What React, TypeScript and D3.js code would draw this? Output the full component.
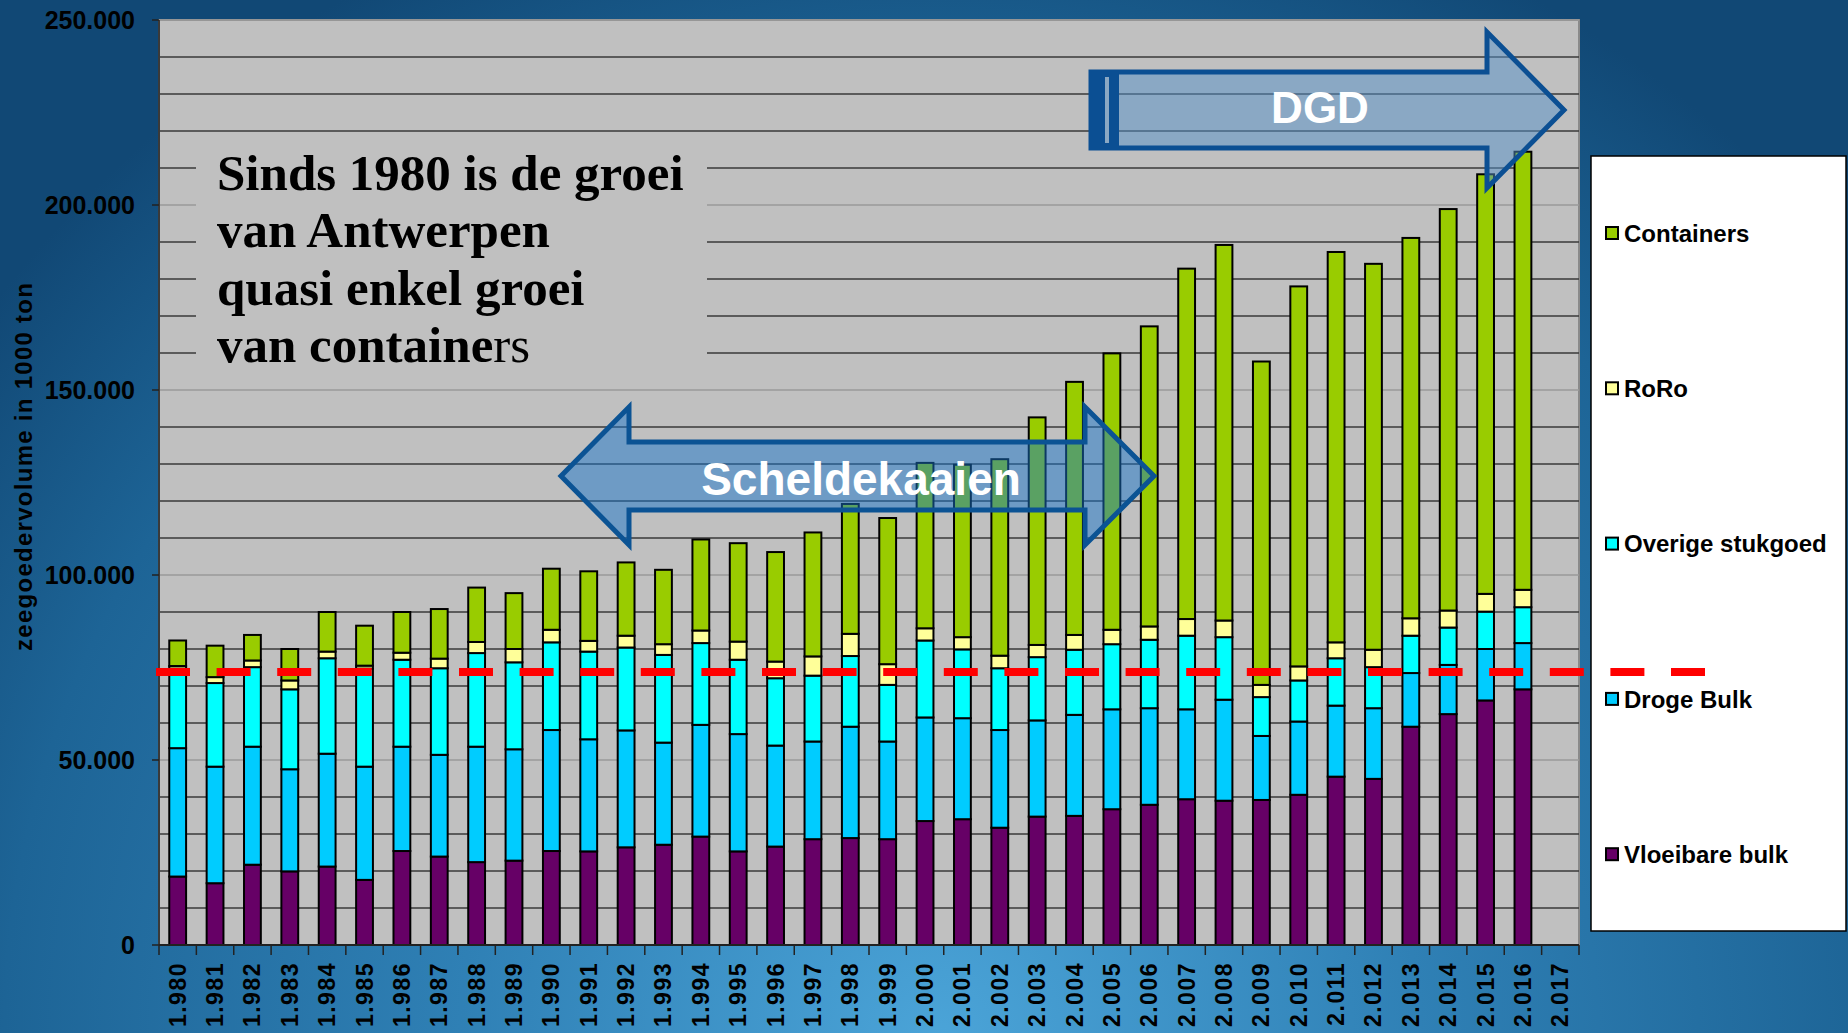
import React from 'react';
import * as d3 from 'd3';

// seaborne cargo volume, in 1000 ton (values read in thousands)
const years = [
  1980, 1981, 1982, 1983, 1984, 1985, 1986, 1987, 1988, 1989,
  1990, 1991, 1992, 1993, 1994, 1995, 1996, 1997, 1998, 1999,
  2000, 2001, 2002, 2003, 2004, 2005, 2006, 2007, 2008, 2009,
  2010, 2011, 2012, 2013, 2014, 2015, 2016, 2017,
];

const vloeibareBulk = [
  18.5, 16.7, 21.7, 19.9, 21.2, 17.6, 25.4, 23.9, 22.4, 22.8,
  25.4, 25.3, 26.4, 27.1, 29.3, 25.3, 26.6, 28.6, 28.9, 28.6,
  33.5, 34.0, 31.7, 34.7, 34.9, 36.7, 37.9, 39.4, 39.0, 39.2,
  40.6, 45.5, 44.9, 59.0, 62.4, 66.1, 69.1, 0,
];
const drogeBulk = [
  34.7, 31.5, 31.9, 27.6, 30.5, 30.6, 28.2, 27.5, 31.2, 30.1,
  32.7, 30.3, 31.6, 27.6, 30.2, 31.7, 27.3, 26.4, 30.1, 26.4,
  28.0, 27.3, 26.4, 26.0, 27.3, 27.0, 26.1, 24.3, 27.3, 17.3,
  19.8, 19.2, 19.1, 14.5, 13.3, 13.9, 12.5, 0,
];
const overigeStukgoed = [
  21.5, 22.6, 21.5, 21.6, 25.8, 26.5, 23.5, 23.4, 25.3, 23.5,
  23.7, 23.7, 22.4, 23.7, 22.1, 20.1, 18.2, 17.8, 19.1, 15.3,
  20.8, 18.6, 16.7, 17.1, 17.6, 17.6, 18.5, 19.9, 16.9, 10.5,
  11.1, 12.8, 11.1, 10.1, 10.1, 10.1, 9.7, 0,
];
const roro = [
  0.7, 1.6, 1.8, 2.4, 1.8, 0.8, 1.9, 2.6, 3.0, 3.6,
  3.4, 2.9, 3.2, 2.9, 3.4, 4.9, 4.5, 5.2, 6.0, 5.6,
  3.3, 3.3, 3.4, 3.3, 4.0, 3.9, 3.6, 4.5, 4.5, 3.3,
  3.8, 4.3, 4.7, 4.7, 4.6, 4.8, 4.7, 0,
];
const containers = [
  6.9, 8.5, 6.9, 8.5, 10.7, 10.8, 11.0, 13.4, 14.7, 15.1,
  16.5, 18.8, 19.8, 20.1, 24.6, 26.6, 29.6, 33.5, 35.1, 39.5,
  44.7, 46.6, 53.1, 61.5, 68.4, 74.7, 81.1, 94.7, 101.5, 87.4,
  102.7, 105.5, 104.3, 102.8, 108.5, 113.4, 118.4, 0,
];

const seriesKeys = ['Vloeibare bulk', 'Droge Bulk', 'Overige stukgoed', 'RoRo', 'Containers'];
const seriesColors = ['#660066', '#00ccff', '#00ffff', '#ffff99', '#99cc00'];
const legendOrder = ['Containers', 'RoRo', 'Overige stukgoed', 'Droge Bulk', 'Vloeibare bulk'];

const yTicks = [0, 50000, 100000, 150000, 200000, 250000];
const gridValues = d3.range(10000, 250001, 10000);
const referenceLevel = 73800;

const noteLines = ['Sinds 1980 is de groei', 'van Antwerpen', 'quasi enkel groei'];

const W = 1848;
const H = 1033;
const plot = { left: 159, right: 1579, top: 20, bottom: 945 };

const nl = d3.formatLocale({ decimal: ',', thousands: '.', grouping: [3], currency: ['', ''] });
const fmt = nl.format(',');

const table = years.map((year, i) => ({
  year,
  'Vloeibare bulk': vloeibareBulk[i] * 1000,
  'Droge Bulk': drogeBulk[i] * 1000,
  'Overige stukgoed': overigeStukgoed[i] * 1000,
  'RoRo': roro[i] * 1000,
  'Containers': containers[i] * 1000,
}));

const App = () => {
  const x = d3.scaleBand<number>()
    .domain(years)
    .range([plot.left, plot.right])
    .paddingInner(0.55)
    .paddingOuter(0.275);
  const y = d3.scaleLinear().domain([0, 250000]).range([plot.bottom, plot.top]);
  const color = d3.scaleOrdinal<string, string>().domain(seriesKeys).range(seriesColors);

  const stacked = d3.stack<any>().keys(seriesKeys)(table);
  const step = x.step();
  const font = "'Liberation Sans', Arial, sans-serif";

  // arrows
  const sch = { l: 561, r: 1154, hl: 629, hr: 1085, mid: 476, ht: 407, hb: 545, bt: 442, bb: 510 };
  const schPts = [
    [sch.l, sch.mid], [sch.hl, sch.ht], [sch.hl, sch.bt], [sch.hr, sch.bt], [sch.hr, sch.ht],
    [sch.r, sch.mid], [sch.hr, sch.hb], [sch.hr, sch.bb], [sch.hl, sch.bb], [sch.hl, sch.hb],
  ];
  const dgd = { l: 1091, hx: 1487, tip: 1564, mid: 110, ht: 32, hb: 188, bt: 72, bb: 148 };
  const dgdPts = [
    [dgd.l, dgd.bt], [dgd.hx, dgd.bt], [dgd.hx, dgd.ht], [dgd.tip, dgd.mid],
    [dgd.hx, dgd.hb], [dgd.hx, dgd.bb], [dgd.l, dgd.bb],
  ];
  const poly = (pts: number[][]) => pts.map(p => p.join(',')).join(' ');

  return (
    <svg width={W} height={H} style={{ position: 'absolute', top: 0, left: 0, display: 'block' }}>
      <defs>
        <radialGradient id="bg" gradientUnits="userSpaceOnUse" cx={940} cy={1040} r={1200}>
          <stop offset="0" stopColor="#4ba4d8" />
          <stop offset="0.4" stopColor="#2f80b5" />
          <stop offset="0.78" stopColor="#1d6496" />
          <stop offset="1" stopColor="#114875" />
        </radialGradient>
      </defs>
      <rect x={0} y={0} width={W} height={H} fill="url(#bg)" />

      {/* plot area */}
      <rect x={plot.left} y={plot.top} width={plot.right - plot.left} height={plot.bottom - plot.top}
        fill="#c0c0c0" stroke="#8a8a8a" strokeWidth={2} />
      {gridValues.map(v => (
        <line key={v} x1={plot.left} x2={plot.right} y1={y(v)} y2={y(v)}
          stroke={v % 50000 === 0 ? '#9a9a9a' : '#3a3a3a'} strokeWidth={1.5} />
      ))}

      {/* note box hides the grid */}
      <rect x={196} y={142} width={511} height={236} fill="#c0c0c0" />

      {/* bars */}
      {stacked.map(s => (
        <g key={s.key} fill={color(s.key)} stroke="#000" strokeWidth={2}>
          {s.map((d, i) => (d[1] - d[0] > 0 ? (
            <rect key={i} x={x(years[i])} width={x.bandwidth()} y={y(d[1])} height={y(d[0]) - y(d[1])} />
          ) : null))}
        </g>
      ))}

      {/* axes */}
      <line x1={plot.left} x2={plot.left} y1={plot.top} y2={plot.bottom} stroke="#3a3a3a" strokeWidth={2} />
      <line x1={plot.left} x2={plot.right} y1={plot.bottom} y2={plot.bottom} stroke="#222" strokeWidth={2} />
      {yTicks.map(v => (
        <g key={v}>
          <line x1={plot.left - 7} x2={plot.left} y1={y(v)} y2={y(v)} stroke="#222" strokeWidth={1.5} />
          <text x={135} y={y(v)} dy="0.36em" textAnchor="end" fontFamily={font} fontWeight="bold" fontSize={25} fill="#000">
            {fmt(v)}
          </text>
        </g>
      ))}
      {years.map((yr, i) => (
        <line key={'t' + yr} x1={plot.left + i * step} x2={plot.left + i * step} y1={plot.bottom} y2={plot.bottom + 10}
          stroke="#222" strokeWidth={1.5} />
      ))}
      <line x1={plot.right} x2={plot.right} y1={plot.bottom} y2={plot.bottom + 10} stroke="#222" strokeWidth={1.5} />
      {years.map(yr => {
        const cx = (x(yr) as number) + x.bandwidth() / 2;
        return (
          <text key={'l' + yr} transform={`translate(${cx + 8},962) rotate(-90)`} textAnchor="end"
            fontFamily={font} fontWeight="bold" fontSize={23} letterSpacing={1.5} fill="#000">
            {fmt(yr)}
          </text>
        );
      })}
      <text transform="translate(32,467) rotate(-90)" textAnchor="middle" fontFamily={font} fontWeight="bold"
        fontSize={24} textLength={368} lengthAdjust="spacing" fill="#000">
        zeegoedervolume in 1000 ton
      </text>

      {/* note */}
      <g fontFamily="'Liberation Serif', 'Times New Roman', serif" fontWeight="bold" fontSize={51} fill="#000">
        {noteLines.map((t, i) => (
          <text key={t} x={217} y={190 + i * 57.3}>{t}</text>
        ))}
        <text x={217} y={190 + 3 * 57.3}>van containe<tspan fontWeight="normal">rs</tspan></text>
      </g>

      {/* Scheldekaaien arrow */}
      <polygon points={poly(schPts)} fill="rgb(25,116,202)" fillOpacity={0.49} stroke="#0b5394" strokeWidth={5}
        strokeLinejoin="miter" />
      <text x={861} y={495} textAnchor="middle" fontFamily={font} fontWeight="bold" fontSize={46} fill="#fff">
        Scheldekaaien
      </text>

      {/* DGD arrow */}
      <polygon points={poly(dgdPts)} fill="rgb(84,144,200)" fillOpacity={0.5} stroke="#0b4f93" strokeWidth={5}
        strokeLinejoin="miter" />
      <rect x={dgd.l} y={dgd.bt} width={28} height={dgd.bb - dgd.bt} fill="#0b4f93" />
      <rect x={dgd.l + 14} y={dgd.bt + 5} width={4} height={dgd.bb - dgd.bt - 10} fill="#8aa8c4" />
      <text x={1320} y={123} textAnchor="middle" fontFamily={font} fontWeight="bold" fontSize={44} fill="#fff">
        DGD
      </text>

      {/* legend */}
      <rect x={1591} y={156} width={255} height={775} fill="#fff" stroke="#000" strokeWidth={1.5} />
      {legendOrder.map((k, i) => {
        const cy = 233 + i * 155.3;
        return (
          <g key={k}>
            <rect x={1606} y={cy - 6} width={12} height={12} fill={color(k)} stroke="#000" strokeWidth={2} />
            <text x={1624} y={cy} dy="0.36em" fontFamily={font} fontWeight="bold" fontSize={24} fill="#000">{k}</text>
          </g>
        );
      })}

      {/* reference level */}
      <line x1={156} x2={1707} y1={y(referenceLevel)} y2={y(referenceLevel)} stroke="#ff0000" strokeWidth={8}
        strokeDasharray="34 26.6" />
    </svg>
  );
};

export default App;
